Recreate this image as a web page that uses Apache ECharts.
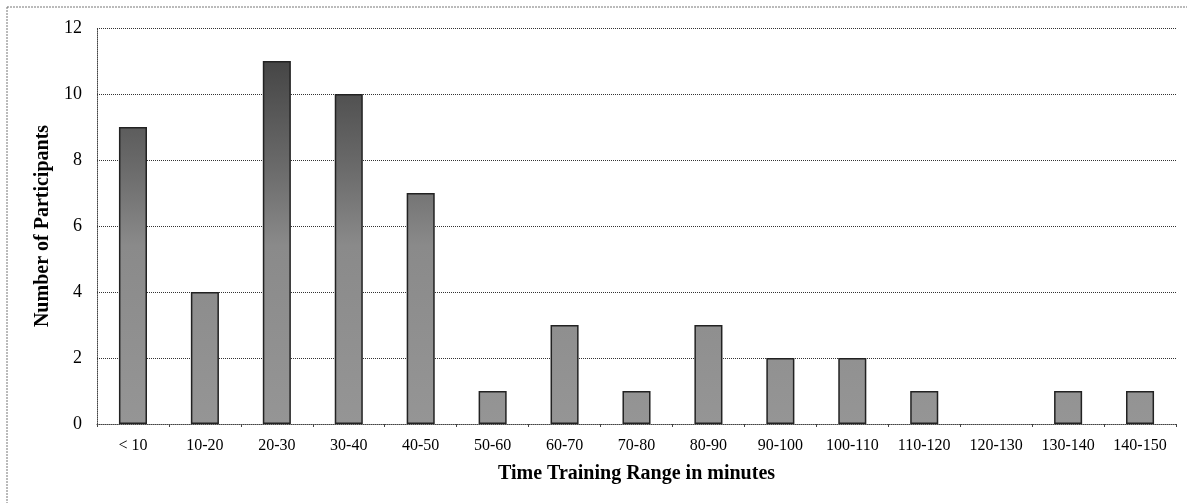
<!DOCTYPE html>
<html><head><meta charset="utf-8">
<script src="https://cdn.jsdelivr.net/npm/echarts@6/dist/echarts.min.js"></script>
<style>html,body{margin:0;padding:0;background:#fff}#c{width:1187px;height:503px}</style>
</head><body><div id="c"></div>
<script>
var categories = ['< 10','10-20','20-30','30-40','40-50','50-60','60-70','70-80','80-90','90-100','100-110','110-120','120-130','130-140','140-150'];
var participants = [9,4,11,10,7,1,3,1,3,2,2,1,0,1,1];
var yTicks = {min:0, max:12, interval:2};
var xTitle = 'Time Training Range in minutes';
var yTitle = 'Number of Participants';

var chart = echarts.init(document.getElementById('c'));
var serif = '"Liberation Serif","DejaVu Serif",serif';
chart.setOption({
  animation:false,
  backgroundColor:'#fff',
  grid:{left:97,right:11,top:28,bottom:79},
  xAxis:{type:'category',data:categories,
    axisLine:{lineStyle:{color:'#444',type:'dotted'}},
    axisTick:{show:true,length:3,lineStyle:{color:'#444'}},
    axisLabel:{color:'#000',fontFamily:serif,fontSize:16,margin:14,interval:0,hideOverlap:false},
    name:xTitle,nameLocation:'middle',nameGap:40,
    nameTextStyle:{fontFamily:serif,fontWeight:'bold',fontSize:20,color:'#000'}
  },
  yAxis:{type:'value',min:yTicks.min,max:yTicks.max,interval:yTicks.interval,
    axisLine:{show:true,lineStyle:{color:'#444',type:'dotted'}},
    axisTick:{show:false},
    splitLine:{lineStyle:{color:'#333',type:'dotted',width:1}},
    axisLabel:{color:'#000',fontFamily:serif,fontSize:18,margin:15},
    name:yTitle,nameLocation:'middle',nameGap:40,nameRotate:90,
    nameTextStyle:{fontFamily:serif,fontWeight:'bold',fontSize:20,color:'#000'}
  },
  graphic:[{type:'rect',shape:{x:7,y:7,width:1200,height:520},
    style:{fill:null,stroke:'#777',lineWidth:1,lineDash:[2,1]},silent:true,z:-1}],
  series:[{type:'bar',
    data:participants.map(function(v){return v===0?{value:v,itemStyle:{borderWidth:0,opacity:0}}:v;}),
    barWidth:'39%',
    itemStyle:{
      color:new echarts.graphic.LinearGradient(0,28,0,424,[
        {offset:0,color:'#3a3a3a'},{offset:0.35,color:'#6a6a6a'},{offset:0.55,color:'#8a8a8a'},{offset:1,color:'#959595'}],true),
      borderColor:'#222',borderWidth:1.5}
  }]
});
</script></body></html>
